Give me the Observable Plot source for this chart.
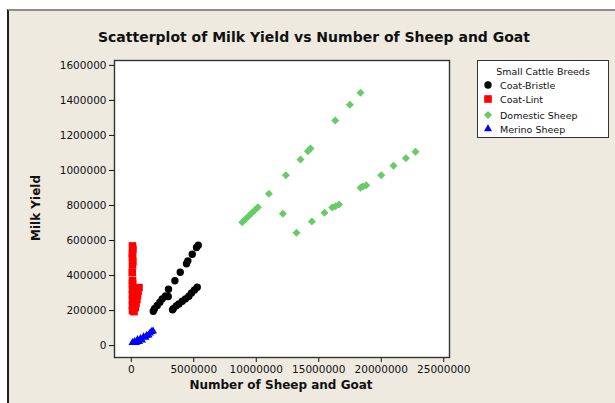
<!DOCTYPE html>
<html>
<head>
<meta charset="utf-8">
<script src="https://cdn.jsdelivr.net/npm/d3@7"></script>
<script src="https://cdn.jsdelivr.net/npm/@observablehq/plot@0.6"></script>
<style>
  html, body { margin: 0; padding: 0; background: #ffffff; }
  #wrap { position: relative; width: 615px; height: 403px; overflow: hidden; }
  #panel {
    position: absolute; left: 7px; top: 9px; width: 608px; height: 394px;
    background: #EEEAE0; border-top: 2px solid #8e8e8e; border-left: 2px solid #1e1e1e;
    box-sizing: border-box;
  }
  #chart { position: absolute; left: 0; top: 0; }
  .txt { position: absolute; font-family: "DejaVu Sans", sans-serif; color: #111; white-space: nowrap; }
  #title { left: 314px; top: 29px; transform: translateX(-50%); font-size: 14px; font-weight: bold; }
  #xlabel { left: 281px; top: 378px; transform: translateX(-50%); font-size: 12px; font-weight: bold; }
  #ylabel { left: 36px; top: 208px; transform: translate(-50%, -50%) rotate(-90deg); font-size: 12px; font-weight: bold; }
  #legend {
    position: absolute; left: 477px; top: 60px; width: 132px; height: 78px;
    background: #ffffff; border: 1px solid #333; box-sizing: border-box;
    font-family: "DejaVu Sans", sans-serif; font-size: 9.5px; color: #111;
  }
  #legend .head { position: absolute; left: 0; width: 130px; top: 5px; text-align: center; }
  #legend .row { position: absolute; left: 4px; height: 12px; display: flex; align-items: center; }
  #legend .row svg { margin-right: 6px; }
</style>
</head>
<body>
<div id="wrap">
  <div id="panel"></div>
  <div id="chart"></div>
  <div id="title" class="txt">Scatterplot of Milk Yield vs Number of Sheep and Goat</div>
  <div id="xlabel" class="txt">Number of Sheep and Goat</div>
  <div id="ylabel" class="txt">Milk Yield</div>
  <div id="legend"><div class="head">Small Cattle Breeds</div></div>
</div>
<script>
// Breed groups, their colours and marker shapes
const breeds = ["Coat-Bristle", "Coat-Lint", "Domestic Sheep", "Merino Sheep"];
const colors = ["#000000", "#FF0000", "#66CC66", "#0000FF"];
const shapes = ["circle", "square", "diamond2", "triangle"];
const radii  = [3.7, 4.3, 3.6, 3.0];

// Coat-Bristle: number of sheep and goat, milk yield
const bristleHead = [5360000, 5220000, 4880000, 4530000, 4420000, 3920000, 3490000, 2980000, 2740000, 2960000,
  2480000, 2290000, 2080000, 1860000, 1760000,
  5280000, 5060000, 4820000, 4610000, 4340000, 4080000, 3810000, 3600000, 3360000, 3300000];
const bristleMilk = [573000, 560000, 522000, 484000, 467000, 419000, 370000, 322000, 284000, 280000,
  267000, 248000, 229000, 210000, 196000,
  333000, 318000, 301000, 282000, 267000, 253000, 238000, 227000, 211000, 204000];

// Coat-Lint
const lintHead = [100000, 130000, 90000, 100000, 120000, 100000, 80000, 100000, 100000,
  620000, 540000, 100000, 500000, 100000, 450000, 100000, 380000, 100000, 320000, 100000, 220000];
const lintMilk = [569000, 549000, 526000, 503000, 480000, 460000, 417000, 371000, 354000,
  331000, 309000, 320000, 286000, 291000, 263000, 260000, 240000, 229000, 217000, 200000, 194000];

// Domestic Sheep
const domesticHead = [18340000, 17490000, 16320000, 14340000, 14130000, 13540000, 12370000, 11010000,
  10130000, 9880000, 9620000, 9380000, 9130000, 8880000,
  12130000, 13220000, 14450000, 15460000, 16080000, 16340000, 16620000, 18340000, 18530000, 18800000,
  20000000, 20980000, 21970000, 22740000];
const domesticMilk = [1444000, 1375000, 1286000, 1126000, 1110000, 1063000, 973000, 867000,
  790000, 773000, 756000, 739000, 722000, 705000,
  753000, 644000, 709000, 758000, 789000, 796000, 806000, 901000, 909000, 916000,
  973000, 1027000, 1070000, 1107000];

// Merino Sheep
const merinoHead = [100000, 260000, 380000, 500000, 620000, 740000, 860000, 980000, 1140000, 1220000,
  1380000, 1500000, 1620000, 1740000];
const merinoMilk = [17000, 23000, 17000, 34000, 23000, 40000, 31000, 49000, 46000, 57000,
  60000, 71000, 80000, 83000];

// Axis ticks
const xTicks = [0, 5000000, 10000000, 15000000, 20000000, 25000000];
const yTicks = [0, 200000, 400000, 600000, 800000, 1000000, 1200000, 1400000, 1600000];

const series = [
  [bristleHead, bristleMilk],
  [lintHead, lintMilk],
  [domesticHead, domesticMilk],
  [merinoHead, merinoMilk]
];
const groups = series.map(([xs, ys], i) =>
  xs.map((x, j) => ({breed: breeds[i], head: x, milk: ys[j]})));

const fmt = d3.format("d");

const chart = Plot.plot({
  width: 615,
  height: 403,
  marginLeft: 114,
  marginRight: 166,
  marginTop: 60,
  marginBottom: 46,
  style: {background: "transparent", fontFamily: "DejaVu Sans, sans-serif", fontSize: "10.5px", color: "#111"},
  x: {domain: [-1340000, 25460000]},
  y: {domain: [-68000, 1628000]},
  color: {domain: breeds, range: colors},
  symbol: {domain: breeds, range: shapes},
  marks: [
    Plot.frame({fill: "#ffffff"}),
    ...groups.map((g, i) => Plot.dot(g, {
      x: "head", y: "milk", fill: "breed", symbol: "breed", r: radii[i], stroke: "none"
    })),
    Plot.axisX({ticks: xTicks, tickFormat: fmt, tickSize: 5, tickPadding: 3, label: null}),
    Plot.axisY({ticks: yTicks, tickFormat: fmt, tickSize: 5, tickPadding: 3, label: null}),
    Plot.frame({stroke: "#333", strokeWidth: 1.4})
  ]
});
document.getElementById("chart").appendChild(chart);

// Legend entries built from the breed lists
const legend = document.getElementById("legend");
const rowTops = [18, 32, 48, 62];
breeds.forEach((b, i) => {
  const row = document.createElement("div");
  row.className = "row";
  row.style.top = rowTops[i] + "px";
  const sym = {circle: d3.symbolCircle, square: d3.symbolSquare, diamond2: d3.symbolDiamond2, triangle: d3.symbolTriangle}[shapes[i]];
  const path = d3.symbol(sym, Math.PI * radii[i] * radii[i])();
  row.innerHTML = `<svg width="12" height="12" viewBox="-6 -6 12 12"><path d="${path}" fill="${colors[i]}"/></svg><span>${b}</span>`;
  legend.appendChild(row);
});
</script>
</body>
</html>
